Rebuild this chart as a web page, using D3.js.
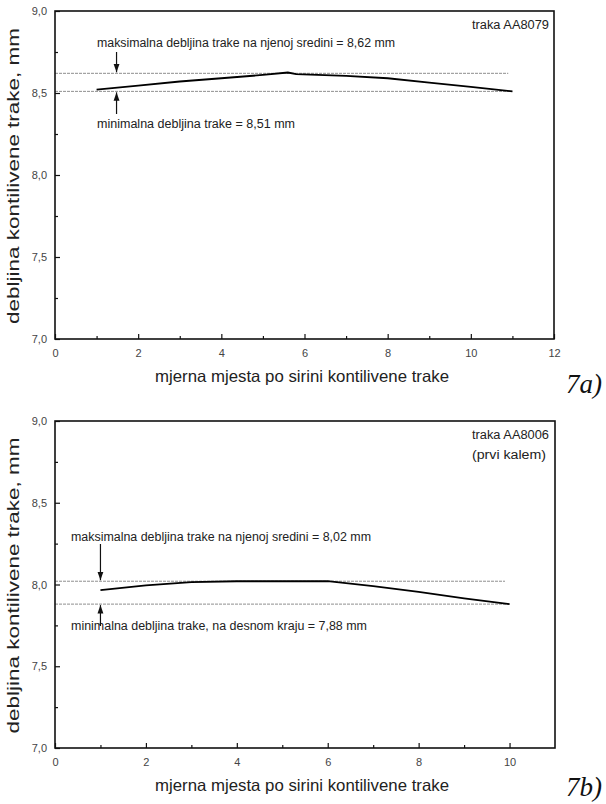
<!DOCTYPE html>
<html><head><meta charset="utf-8">
<script src="https://cdn.jsdelivr.net/npm/d3@7"></script>
<style>
body{margin:0;background:#fff;}
svg{display:block;font-family:"Liberation Sans",Arial,sans-serif;}
</style></head>
<body><svg id="c" width="606" height="804"></svg>
<script>
// ---- data ----
const topX = [1, 2, 3, 4, 5, 5.6, 5.8, 7, 8, 9, 10, 11];
const topY = [8.52, 8.545, 8.57, 8.59, 8.61, 8.625, 8.615, 8.605, 8.59, 8.563, 8.537, 8.51];
const topRef = [8.62, 8.51];
const botX = [1, 2, 3, 4, 5, 6, 7, 8, 9, 10];
const botY = [7.965, 7.995, 8.015, 8.02, 8.02, 8.02, 7.99, 7.955, 7.915, 7.88];
const botRef = [8.02, 7.88];
const yTicks = [7.0, 7.5, 8.0, 8.5, 9.0];
const yMinor = [7.25, 7.75, 8.25, 8.75];
const topXTicks = [0, 2, 4, 6, 8, 10, 12];
const botXTicks = [0, 2, 4, 6, 8, 10];
const topLabels = ["traka AA8079"];
const botLabels = ["traka AA8006", "(prvi kalem)"];
const topMaxText = "maksimalna debljina trake na njenoj sredini = 8,62 mm";
const topMinText = "minimalna debljina trake = 8,51 mm";
const botMaxText = "maksimalna debljina trake na njenoj sredini = 8,02 mm";
const botMinText = "minimalna debljina trake, na desnom kraju = 7,88 mm";
const yTitle = "debljina kontilivene trake, mm";
const xTitle = "mjerna mjesta po sirini kontilivene trake";

const svg = d3.select("#c");
const fmt = d => d3.format(".1f")(d).replace(".", ",");

svg.append("defs").append("marker").attr("id","ah").attr("viewBox","0 0 10 10")
  .attr("refX",10).attr("refY",5).attr("markerWidth",7).attr("markerHeight",7)
  .attr("orient","auto").append("path").attr("d","M0,1.5L10,5L0,8.5Z").attr("fill","#111");

function panel(o){
  const g = svg.append("g");
  const x = d3.scaleLinear().domain([0, o.xMax]).range([55, o.right]);
  const y = d3.scaleLinear().domain([7, 9]).range([o.bottom, o.top]);
  // reference lines
  o.ref.forEach((r,i) => {
    g.append("line").attr("x1", x(0)).attr("x2", x(o.refEnd[i]))
      .attr("y1", y(r)).attr("y2", y(r))
      .attr("stroke", "#8f8f8f").attr("stroke-width", 1).attr("stroke-dasharray", "3,1");
  });
  // data line
  const pts = o.xs.map((d,i)=>[d, o.ys[i]]);
  g.append("path").datum(pts)
    .attr("d", d3.line().x(d=>x(d[0])).y(d=>y(d[1])))
    .attr("fill","none").attr("stroke","#000").attr("stroke-width",1.8);
  // axes
  const xa = d3.axisBottom(x).tickValues(o.xTicks).tickSize(-5).tickPadding(10).tickFormat(d3.format("d"));
  g.append("g").attr("transform",`translate(0,${o.bottom})`).call(xa);
  const xm = d3.range(1, o.xMax, 2);
  g.append("g").attr("transform",`translate(0,${o.bottom})`)
    .call(d3.axisBottom(x).tickValues(xm).tickSize(-3).tickFormat(""));
  const ya = d3.axisLeft(y).tickValues(yTicks).tickSize(-5).tickPadding(8).tickFormat(fmt);
  g.append("g").attr("transform","translate(55,0)").call(ya);
  g.append("g").attr("transform","translate(55,0)")
    .call(d3.axisLeft(y).tickValues(yMinor).tickSize(-3).tickFormat(""));
  g.selectAll(".domain").remove();
  g.selectAll(".tick line").attr("stroke","#111").attr("stroke-width",1.2);
  g.selectAll(".tick text").attr("fill","#444").style("font-size","11px");
  // frame
  g.append("rect").attr("x",55).attr("y",o.top).attr("width",o.right-55).attr("height",o.bottom-o.top)
    .attr("fill","none").attr("stroke","#111").attr("stroke-width",1.6);
  // corner labels
  o.labels.forEach((t,i)=>{
    g.append("text").attr("x",472).attr("y",o.top+18+i*20).text(t)
      .attr("fill","#222").style("font-size","12px").attr("textLength", i===0?77:74).attr("lengthAdjust","spacingAndGlyphs");
  });
  // annotations
  g.append("text").attr("x",o.maxTx).attr("y",o.maxTy).text(o.maxText)
    .attr("fill","#222").style("font-size","12.5px").attr("textLength",o.maxLen).attr("lengthAdjust","spacingAndGlyphs");
  g.append("text").attr("x",o.minTx).attr("y",o.minTy).text(o.minText)
    .attr("fill","#222").style("font-size","12.5px").attr("textLength",o.minLen).attr("lengthAdjust","spacingAndGlyphs");
  g.append("line").attr("x1",x(o.arX)).attr("x2",x(o.arX)).attr("y1",o.maxArTail).attr("y2",y(o.ref[0])-1)
    .attr("stroke","#111").attr("stroke-width",1.2).attr("marker-end","url(#ah)");
  g.append("line").attr("x1",x(o.arX)).attr("x2",x(o.arX)).attr("y1",o.minArTail).attr("y2",y(o.ref[1])+1)
    .attr("stroke","#111").attr("stroke-width",1.2).attr("marker-end","url(#ah)");
  // titles
  g.append("text").attr("transform",`translate(19,${(o.top+o.bottom)/2+1}) rotate(-90)`)
    .attr("text-anchor","middle").text(yTitle).attr("fill","#222")
    .style("font-size","16px").attr("textLength",296).attr("lengthAdjust","spacingAndGlyphs");
  g.append("text").attr("x",302).attr("y",o.bottom+43).attr("text-anchor","middle").text(xTitle)
    .attr("fill","#222").style("font-size","16.5px").attr("textLength",294).attr("lengthAdjust","spacingAndGlyphs");
  g.append("text").attr("x",566).attr("y",o.figY).text(o.fig)
    .style("font-family","'Liberation Serif','Times New Roman',serif").style("font-style","italic")
    .style("font-size","27px").attr("fill","#111");
}

panel({xMax:12, right:554, top:11, bottom:339, xs:topX, ys:topY, ref:topRef, refEnd:[10.9,11],
  xTicks:topXTicks, labels:topLabels, maxText:topMaxText, minText:topMinText,
  maxTx:97, maxTy:47, maxLen:298, minTx:97, minTy:128, minLen:198,
  arX:1.48, maxArTail:52, minArTail:114, fig:"7a)", figY:393});
panel({xMax:11, right:555, top:421, bottom:748, xs:botX, ys:botY, ref:botRef, refEnd:[9.9,10],
  xTicks:botXTicks, labels:botLabels, maxText:botMaxText, minText:botMinText,
  maxTx:71, maxTy:541, maxLen:300, minTx:71, minTy:630, minLen:296,
  arX:1.0, maxArTail:544, minArTail:626, fig:"7b)", figY:796});
</script></body></html>
